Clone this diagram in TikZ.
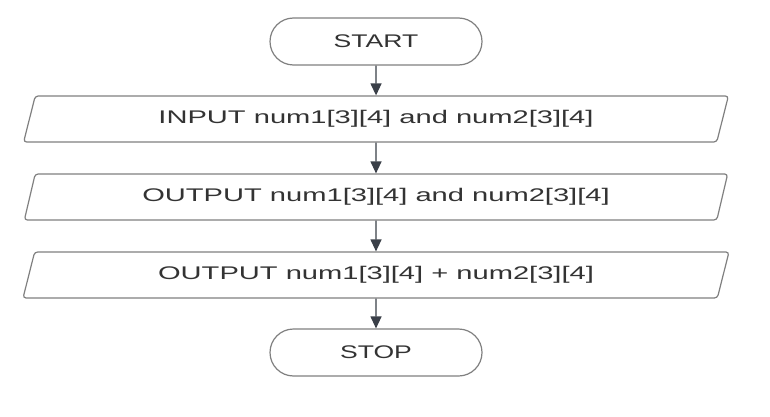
\documentclass[tikz,border=0pt]{standalone}
\usepackage{fontspec}
\setmainfont{Liberation Sans}
\usetikzlibrary{shapes.geometric,arrows.meta}
\definecolor{shapeline}{RGB}{128,128,128}
\definecolor{arrowcol}{RGB}{58,63,72}
\definecolor{txtcol}{RGB}{51,51,51}
\newcommand{\wtxt}[2]{\scalebox{#1}[1]{#2}}
\begin{document}
\begin{tikzpicture}[x=1pt,y=-1pt,
  term/.style={draw=shapeline,line width=1.2pt,rounded corners=23.5pt,
    minimum width=212pt,minimum height=47pt,inner sep=0pt,text=txtcol,
    font=\fontsize{18.3}{22}\selectfont},
  io/.style={draw=shapeline,line width=1.2pt,trapezium,trapezium left angle=66.5,
    trapezium right angle=113.5,trapezium stretches=true,
    minimum width=708pt,minimum height=46pt,rounded corners=3pt,inner sep=0pt,
    text=txtcol,font=\fontsize{18.3}{22}\selectfont},
  flow/.style={draw=arrowcol,line width=1.3pt,-{Triangle[length=12pt,width=11pt]}}]
\useasboundingbox (0,0) rectangle (770,417);
\fill[white] (0,0) rectangle (770,417);
\node[term] (start) at (376,41.5) {\wtxt{1.45}{START}};
\node[io] (p1) at (376,119) {\wtxt{1.59}{INPUT num1[3][4] and num2[3][4]}};
\node[io] (p2) at (376,197) {\wtxt{1.59}{OUTPUT num1[3][4] and num2[3][4]}};
\node[io] (p3) at (376,275) {\wtxt{1.59}{OUTPUT num1[3][4] + num2[3][4]}};
\node[term] (stop) at (376,352.5) {\wtxt{1.45}{STOP}};
\draw[flow] (start) -- (p1);
\draw[flow] (p1) -- (p2);
\draw[flow] (p2) -- (p3);
\draw[flow] (p3) -- (stop);
\end{tikzpicture}
\end{document}
